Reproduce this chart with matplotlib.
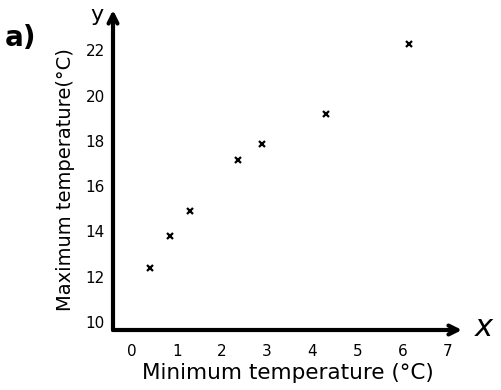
import numpy as np
import matplotlib
matplotlib.use("Agg")
import matplotlib.pyplot as plt

# readings taken off the hand drawn graph
min_temp = [0.4, 0.85, 1.3, 2.35, 2.9, 4.3, 6.15]
max_temp = [12.4, 13.8, 14.9, 17.15, 17.85, 19.2, 22.3]
x_ticks = [0, 1, 2, 3, 4, 5, 6, 7]
y_ticks = [10, 12, 14, 16, 18, 20, 22]

W, H = 501, 390
fig = plt.figure(figsize=(W / 100, H / 100), dpi=100)
# axes box: y axis at px 113, x axis at px 330
ax = fig.add_axes([113 / W, (H - 330) / H, (462 - 113) / W, (330 - 10) / H])

ax.plot(min_temp, max_temp, 'x', color='black', ms=5, mew=1.6)

ax.set_xlim(-0.41, 7.32)
ax.set_ylim(9.65, 23.78)
ax.set_xticks(x_ticks)
ax.set_yticks(y_ticks)
ax.tick_params(length=0, labelsize=11)
ax.tick_params(axis='x', pad=10)
ax.tick_params(axis='y', pad=6)

for s in ax.spines.values():
    s.set_visible(False)

# axis arrows
arrow = dict(arrowstyle='->', color='black', lw=3, mutation_scale=16,
             shrinkA=0, shrinkB=0)
ax.annotate('', xy=(1.0, 0), xytext=(0, 0), xycoords='axes fraction',
            arrowprops=arrow, annotation_clip=False)
ax.annotate('', xy=(0, 1.0), xytext=(0, 0), xycoords='axes fraction',
            arrowprops=arrow, annotation_clip=False)

ax.set_xlabel('Minimum temperature (°C)', fontsize=15.5, labelpad=3)
ax.set_ylabel('Maximum temperature(°C)', fontsize=14)
ax.yaxis.set_label_coords(-0.11, 0.469)

fig.text(20 / W, 1 - 38 / H, 'a)', fontsize=20, fontweight='bold',
         ha='center', va='center')
fig.text(97 / W, 1 - 15 / H, 'y', fontsize=16, ha='center', va='center')
fig.text(484 / W, 1 - 328 / H, 'x', fontsize=22, style='italic',
         ha='center', va='center')

fig.savefig('out.png', dpi=100)
